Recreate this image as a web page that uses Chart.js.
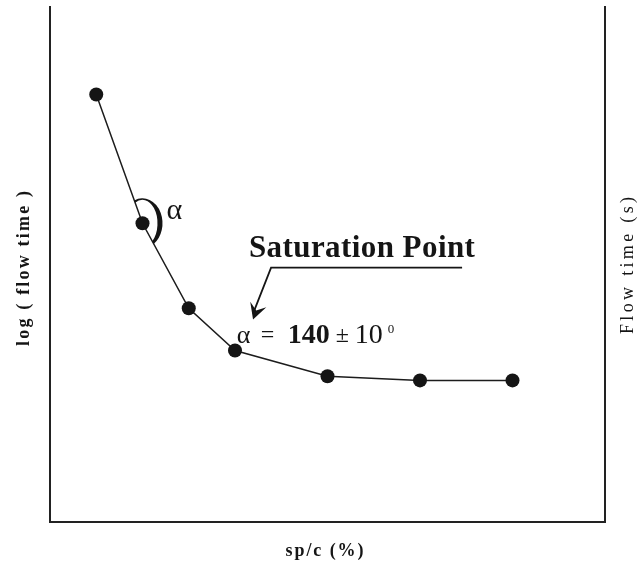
<!DOCTYPE html>
<html>
<head>
<meta charset="utf-8">
<script src="https://cdn.jsdelivr.net/npm/chart.js@4.4.1/dist/chart.umd.min.js"></script>
<style>
  html, body { margin: 0; padding: 0; background: #fff; }
  canvas { display: block; }
</style>
</head>
<body>
<canvas id="chart" width="644" height="565"></canvas>
<script>
// sp/c (%) — relative positions only, the original has no tick values
const spc = [1, 2, 3, 4, 6, 8, 10];
// log(flow time) — relative units
const logFlow = [8.30, 5.80, 4.15, 3.33, 2.83, 2.75, 2.75];

const xTitle = "sp/c (%)";
const yTitle = "log ( flow time )";
const y2Title = "Flow time (s)";
const satLabel = "Saturation Point";
const angleLabel = "α";
const anglePieces = ["α", "=", "140", "±", "10", "0"];

const ink = "#151515";
const serif = '"Liberation Serif", "DejaVu Serif", serif';

// draw text so it spans `width`: spread with letter spacing, or squeeze if too wide
function fitText(ctx, text, x, y, width, rot, align) {
  ctx.save();
  ctx.translate(x, y);
  ctx.rotate(rot);
  ctx.letterSpacing = "0px";
  const w0 = ctx.measureText(text).width;
  ctx.textAlign = "left";
  const left = align === "left" ? 0 : -width / 2;
  if (w0 > width) {
    ctx.scale(width / w0, 1);
    ctx.fillText(text, left * w0 / width, 0);
  } else {
    ctx.letterSpacing = ((width - w0) / (text.length - 1)).toFixed(2) + "px";
    ctx.fillText(text, left, 0);
  }
  ctx.restore();
}

const notes = {
  id: "notes",
  afterDraw(chart) {
    const { ctx, chartArea: ca, scales: { x, y } } = chart;
    const px = v => x.getPixelForValue(v);
    const py = v => y.getPixelForValue(v);
    ctx.save();
    ctx.fillStyle = ink;
    ctx.strokeStyle = ink;
    ctx.textBaseline = "middle";

    // ---- axis titles ----
    ctx.font = "bold 18px " + serif;
    fitText(ctx, xTitle, (ca.left + ca.right) / 2 - 3, ca.bottom + 29, 78, 0);
    ctx.font = "bold 18px " + serif;
    fitText(ctx, yTitle, ca.left - 26, (ca.top + ca.bottom) / 2 + 4, 155, -Math.PI / 2);
    ctx.font = "18px " + serif;
    fitText(ctx, y2Title, ca.right + 23, (ca.top + ca.bottom) / 2 + 1, 137, -Math.PI / 2);

    // ---- angle bracket round the second point ----
    const pts = chart.getDatasetMeta(0).data;
    const p = pts[1], a = pts[0], b = pts[2];
    const th1 = Math.atan2(a.y - p.y, a.x - p.x);
    const th2 = Math.atan2(b.y - p.y, b.x - p.x);
    const par = (th, rx, ry) => Math.atan2(Math.sin(th) / ry, Math.cos(th) / rx);
    ctx.beginPath();
    ctx.ellipse(p.x, p.y, 20, 25, 0, par(th1, 20, 25), par(th2, 20, 25));
    ctx.ellipse(p.x, p.y, 15, 23.5, 0, par(th2, 15, 23.5), par(th1, 15, 23.5), true);
    ctx.closePath();
    ctx.fill();

    ctx.textBaseline = "alphabetic";
    ctx.textAlign = "left";
    ctx.font = "30px " + serif;
    ctx.fillText(angleLabel, px(2.52), py(5.89));

    // ---- Saturation Point label and leader ----
    ctx.font = "bold 31px " + serif;
    fitText(ctx, satLabel, px(4.30), py(5.14), 226, 0, "left");

    const x0 = px(8.91), x1 = px(4.78), y1 = py(4.94);
    const tx = px(4.39), ty = py(3.93);
    ctx.lineWidth = 1.8;
    ctx.beginPath();
    ctx.moveTo(x0, y1);
    ctx.lineTo(x1, y1);
    ctx.lineTo(tx, ty - 6);
    ctx.stroke();
    // arrow head
    const ang = Math.atan2(ty - y1, tx - x1);
    const hl = 16, hw = 8.5;
    const bx = tx - hl * Math.cos(ang), by = ty - hl * Math.sin(ang);
    const nx = -Math.sin(ang), ny = Math.cos(ang);
    ctx.beginPath();
    ctx.moveTo(tx, ty);
    ctx.lineTo(bx + hw * nx, by + hw * ny);
    ctx.lineTo(tx - 0.6 * hl * Math.cos(ang), ty - 0.6 * hl * Math.sin(ang));
    ctx.lineTo(bx - hw * nx, by - hw * ny);
    ctx.closePath();
    ctx.fill();

    // ---- alpha = 140 +- 10 deg ----
    const ax = px(4.04), ay = py(3.47);
    const fonts = ["26px ", "24px ", "bold 28px ", "24px ", "28px ", "13px "];
    const offs = [0, 24, 51, 99, 118, 151];
    const lift = [0, -1, 0, -1, 0, -10];
    anglePieces.forEach((t, i) => {
      ctx.font = fonts[i] + serif;
      ctx.fillText(t, ax + offs[i], ay + lift[i]);
    });

    ctx.restore();
  }
};

const hidden = {
  ticks: { display: false },
  grid: { display: false, drawTicks: false, tickLength: 0 },
  border: { display: true, color: "#222", width: 2 }
};

new Chart(document.getElementById("chart"), {
  type: "line",
  data: {
    datasets: [{
      data: spc.map((v, i) => ({ x: v, y: logFlow[i] })),
      borderColor: "#1c1c1c",
      borderWidth: 1.5,
      pointRadius: 7,
      pointBackgroundColor: ink,
      pointBorderWidth: 0,
      tension: 0,
      fill: false
    }]
  },
  options: {
    responsive: false,
    animation: false,
    events: [],
    layout: { padding: { left: 50, right: 39, top: 6, bottom: 43 } },
    plugins: { legend: { display: false }, tooltip: { enabled: false } },
    scales: {
      x: { type: "linear", min: 0, max: 12, position: "bottom", ...hidden },
      y: { type: "linear", min: 0, max: 10, position: "left", ...hidden },
      y2: { type: "linear", min: 0, max: 10, position: "right", ...hidden }
    }
  },
  plugins: [notes]
});
</script>
</body>
</html>
